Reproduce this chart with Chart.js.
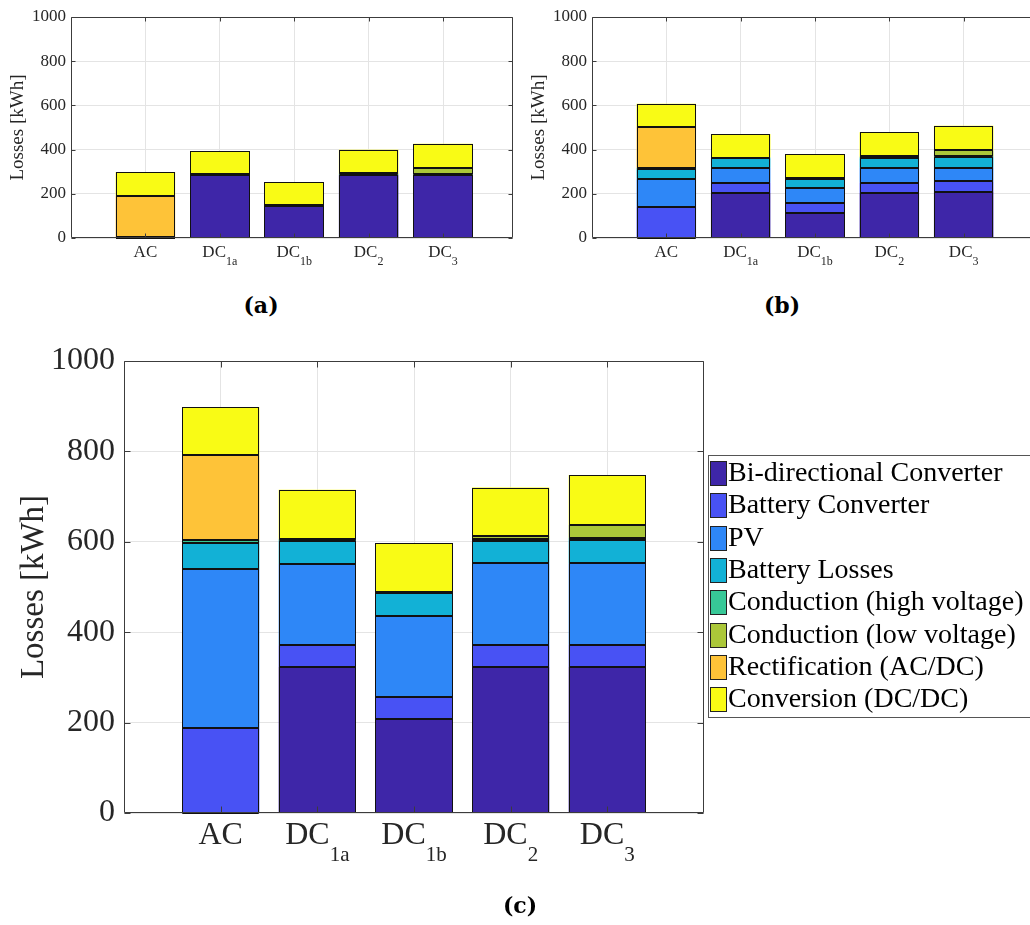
<!DOCTYPE html>
<html>
<head>
<meta charset="utf-8">
<script src="https://cdn.jsdelivr.net/npm/chart.js@4/dist/chart.umd.min.js"></script>
<style>
html, body { margin: 0; padding: 0; width: 1030px; height: 925px; overflow: hidden; background: #fff; }
canvas { position: absolute; }
.panel { position: absolute; font-family: 'DejaVu Serif', serif; font-weight: bold; font-size: 22px; color: #000; transform: translate(-50%, -50%); }
</style>
</head>
<body>
<canvas id="chartA" width="516" height="290" style="left:0;top:0"></canvas>
<canvas id="chartB" width="520" height="290" style="left:521px;top:0"></canvas>
<canvas id="chartC" width="1030" height="590" style="left:0;top:330px"></canvas>
<div class="panel" style="left:261px;top:305px">(a)</div>
<div class="panel" style="left:782px;top:305px">(b)</div>
<div class="panel" style="left:520px;top:905px">(c)</div>
<script>
// categories, drawn as DC + subscript
const categories = ['AC', 'DC', 'DC', 'DC', 'DC'];
const categorySubs = ['', '1a', '1b', '2', '3'];
const positions = [1, 2, 3, 4, 5];

const seriesNames = [
    'Bi-directional Converter',
    'Battery Converter',
    'PV',
    'Battery Losses',
    'Conduction (high voltage)',
    'Conduction (low voltage)',
    'Rectification (AC/DC)',
    'Conversion (DC/DC)'
];
const seriesColors = ['#3e26a8', '#4852f4', '#2e87f7', '#12b1d6', '#37c897', '#abc739', '#fec338', '#f9fb15'];

// (a)
const aBidirectional = [0, 284, 144, 284, 284];
const aBatteryConv = [0, 0, 0, 0, 0];
const aPV = [0, 0, 0, 0, 0];
const aBatteryLoss = [0, 0, 0, 0, 0];
const aCondHigh = [4, 5, 4, 5, 4];
const aCondLow = [0, 0, 0, 4, 30];
const aRectification = [188, 0, 0, 0, 0];
const aConversion = [107, 104, 105, 106, 109];

// (b)
const bBidirectional = [0, 204, 115, 204, 210];
const bBatteryConv = [142, 47, 44, 47, 46];
const bPV = [127, 67, 65, 67, 63];
const bBatteryLoss = [42, 42, 44, 42, 46];
const bCondHigh = [6, 4, 4, 4, 4];
const bCondLow = [0, 0, 0, 5, 27];
const bRectification = [185, 0, 0, 0, 0];
const bConversion = [106, 107, 106, 109, 112];

// (c)
const cBidirectional = [0, 323, 208, 323, 323];
const cBatteryConv = [187, 48, 48, 48, 49];
const cPV = [352, 180, 180, 181, 180];
const cBatteryLoss = [58, 51, 50, 50, 52];
const cCondHigh = [8, 3, 4, 5, 5];
const cCondLow = [0, 2, 0, 6, 28];
const cRectification = [186, 0, 0, 0, 0];
const cConversion = [107, 108, 107, 107, 111];

const FONT = "'Liberation Serif', 'Times New Roman', serif";

const makeChart = (id, series, look) => {

    const datasets = series.map((values, k) => ({
        label: seriesNames[k],
        data: values.map((v, i) => ({ x: positions[i], y: v })),
        backgroundColor: seriesColors[k],
        borderWidth: 0,
        barPercentage: 0.8,
        categoryPercentage: 1
    }));

    // bar edges, frame, inward ticks, subscripted category labels, legend
    const frame = {
        id: 'frame',
        afterDatasetsDraw(chart) {
            const { ctx, chartArea: a, scales } = chart;
            ctx.save();

            // crisp black edges on every stacked segment (MATLAB style)
            ctx.strokeStyle = '#111';
            ctx.lineWidth = 1;
            chart.data.datasets.forEach((ds, k) => {
                chart.getDatasetMeta(k).data.forEach(bar => {
                    const { x, y, base, width } = bar.getProps(['x', 'y', 'base', 'width'], true);
                    const l = Math.round(x - width / 2) + 0.5, r = Math.round(x + width / 2) - 0.5;
                    const t = Math.round(Math.min(y, base)) + 0.5, b = Math.round(Math.max(y, base)) - 0.5;
                    ctx.strokeRect(l, t, r - l, Math.max(b - t, 0));
                });
            });

            const L = Math.round(a.left) + 0.5, R = Math.round(a.right) - 0.5;
            const T = Math.round(a.top) + 0.5, B = Math.round(a.bottom) - 0.5;
            ctx.strokeStyle = '#3c3c3c';
            ctx.beginPath();
            ctx.rect(L, T, R - L, B - T);
            scales.y.ticks.forEach(t => {
                const y = Math.round(scales.y.getPixelForValue(t.value)) + 0.5;
                ctx.moveTo(L, y); ctx.lineTo(L + look.tick, y);
                ctx.moveTo(R, y); ctx.lineTo(R - look.tick, y);
            });
            positions.forEach(p => {
                const x = Math.round(scales.x.getPixelForValue(p)) + 0.5;
                ctx.moveTo(x, B); ctx.lineTo(x, B - look.tick);
                ctx.moveTo(x, T); ctx.lineTo(x, T + look.tick);
            });
            ctx.stroke();

            ctx.fillStyle = '#262626';
            ctx.textBaseline = 'middle';
            ctx.textAlign = 'left';
            categories.forEach((cat, i) => {
                const x = scales.x.getPixelForValue(positions[i]);
                ctx.font = look.labelSize + 'px ' + FONT;
                const w1 = ctx.measureText(cat).width;
                ctx.font = look.subSize + 'px ' + FONT;
                const w2 = ctx.measureText(categorySubs[i]).width;
                const x0 = x - (w1 + w2) / 2;
                ctx.font = look.labelSize + 'px ' + FONT;
                ctx.fillText(cat, x0, look.labelY);
                ctx.font = look.subSize + 'px ' + FONT;
                ctx.fillText(categorySubs[i], x0 + w1, look.subY);
            });

            if (look.legend) {
                const lg = look.legend;
                ctx.fillStyle = '#fff';
                ctx.fillRect(lg.x, lg.y, lg.w, lg.h);
                ctx.strokeStyle = '#555';
                ctx.strokeRect(lg.x + 0.5, lg.y + 0.5, lg.w, lg.h);
                ctx.font = lg.size + 'px ' + FONT;
                chart.data.datasets.forEach((ds, k) => {
                    const sy = Math.round(lg.y + 6 + k * lg.pitch);
                    ctx.fillStyle = ds.backgroundColor;
                    ctx.fillRect(lg.x + 2, sy, 16, 24);
                    ctx.strokeStyle = '#222';
                    ctx.strokeRect(lg.x + 2.5, sy + 0.5, 16, 24);
                    ctx.fillStyle = '#000';
                    ctx.fillText(ds.label, lg.x + 20, sy + 13);
                });
            }
            ctx.restore();
        }
    };

    return new Chart(document.getElementById(id), {
        type: 'bar',
        data: { datasets: datasets },
        options: {
            responsive: false,
            animation: false,
            devicePixelRatio: 1,
            layout: { padding: look.padding },
            plugins: { legend: { display: false }, tooltip: { enabled: false } },
            scales: {
                x: {
                    type: 'linear',
                    stacked: true,
                    min: 0,
                    max: look.xMax,
                    offset: false,
                    grid: { color: '#e4e4e4', offset: false, drawTicks: false },
                    border: { display: false },
                    ticks: { display: false },
                    afterBuildTicks: s => { s.ticks = positions.map(v => ({ value: v })); },
                    afterFit: s => { s.height = look.xHeight; }
                },
                y: {
                    stacked: true,
                    min: 0,
                    max: 1000,
                    grid: { color: '#e4e4e4', drawTicks: false },
                    border: { display: false },
                    ticks: {
                        stepSize: 200,
                        callback: v => String(v),
                        font: { family: FONT, size: look.tickSize },
                        color: '#262626',
                        padding: look.tickPad
                    },
                    title: {
                        display: true,
                        text: 'Losses [kWh]',
                        font: { family: FONT, size: look.titleSize },
                        color: '#262626',
                        padding: { top: look.titlePad, bottom: 0 }
                    },
                    afterFit: s => { s.width = look.yWidth; }
                }
            }
        },
        plugins: [frame]
    });
};

makeChart('chartA',
    [aBidirectional, aBatteryConv, aPV, aBatteryLoss, aCondHigh, aCondLow, aRectification, aConversion],
    { padding: { top: 17, right: 3, bottom: 0, left: 0 }, xMax: 5.94, xHeight: 52, yWidth: 71,
      tickSize: 17, tickPad: 5, titleSize: 19, titlePad: 7, labelSize: 17, subSize: 12,
      labelY: 253, subY: 262, tick: 4 });

makeChart('chartB',
    [bBidirectional, bBatteryConv, bPV, bBatteryLoss, bCondHigh, bCondLow, bRectification, bConversion],
    { padding: { top: 17, right: 3, bottom: 0, left: 0 }, xMax: 6, xHeight: 52, yWidth: 71,
      tickSize: 17, tickPad: 5, titleSize: 19, titlePad: 7, labelSize: 17, subSize: 12,
      labelY: 253, subY: 262, tick: 4 });

makeChart('chartC',
    [cBidirectional, cBatteryConv, cPV, cBatteryLoss, cCondHigh, cCondLow, cRectification, cConversion],
    { padding: { top: 31, right: 326, bottom: 0, left: 0 }, xMax: 6, xHeight: 107, yWidth: 124,
      tickSize: 32, tickPad: 9, titleSize: 33, titlePad: 15, labelSize: 32, subSize: 21,
      labelY: 506, subY: 525, tick: 6,
      legend: { x: 708, y: 125, w: 330, h: 262, pitch: 32.3, size: 28 } });
</script>
</body>
</html>
